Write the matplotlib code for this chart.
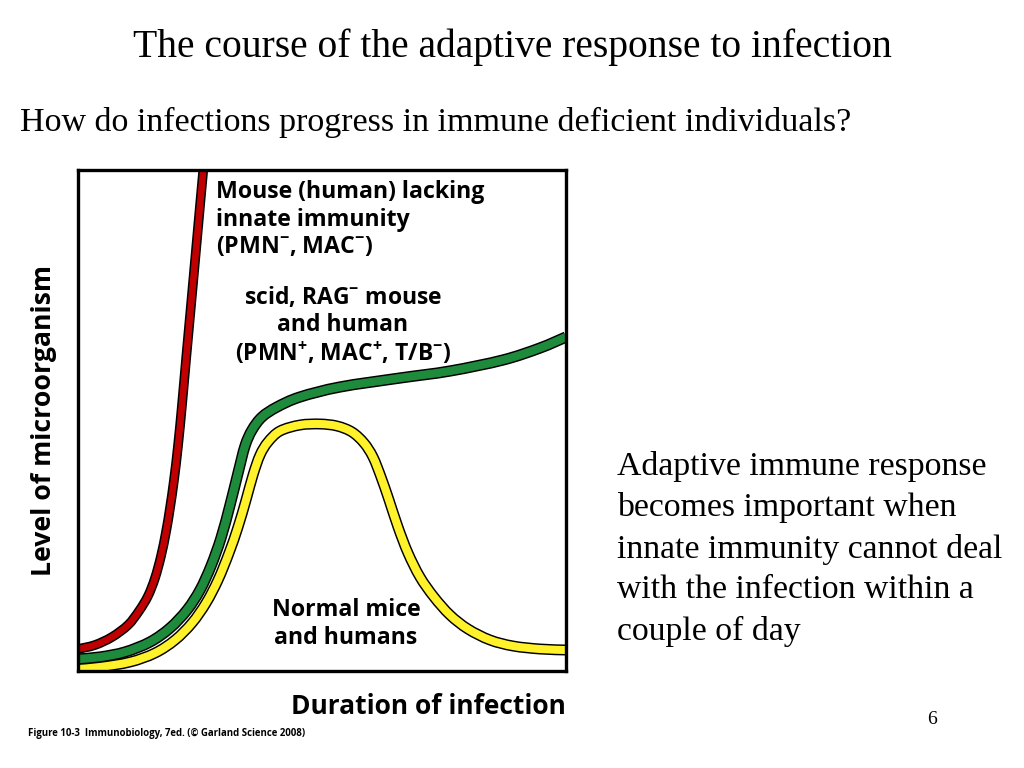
import numpy as np
import matplotlib
matplotlib.use("Agg")
import matplotlib.pyplot as plt
from matplotlib.path import Path
from matplotlib.patches import PathPatch

plt.rcParams["mathtext.fontset"] = "custom"
plt.rcParams["mathtext.rm"] = "Open Sans:bold"
plt.rcParams["mathtext.it"] = "Open Sans:bold"
plt.rcParams["mathtext.bf"] = "Open Sans:bold"

# ---- data (arbitrary units: duration 0-100, level 0-100) ----
red_x = [0, 3.48, 6.97, 10.25, 12.50, 14.34, 15.78, 17.01, 18.03, 18.85, 19.67,
         20.49, 21.31, 22.13, 23.16, 24.18, 25.20, 26.23]
red_y = [4.39, 5.19, 6.79, 9.18, 11.98, 14.97, 18.56, 22.95, 27.74, 32.53, 38.12,
         44.91, 53.09, 62.08, 73.05, 84.03, 95.01, 105.99]

green_x = [0, 4.51, 9.63, 14.75, 18.85, 22.34, 25.00, 27.25, 29.30, 31.15, 32.79,
           34.22, 35.66, 37.70, 40.78, 45.49, 53.69, 65.98, 76.23, 87.09, 94.67, 100]
green_y = [2.40, 2.79, 3.79, 5.79, 8.58, 12.18, 16.17, 20.96, 26.55, 33.13, 39.52,
           44.91, 48.10, 50.70, 52.69, 54.69, 56.69, 58.48, 59.88, 62.08, 64.47, 66.67]

yellow_x = [0, 4.51, 10.66, 15.78, 19.88, 23.36, 26.23, 28.69, 30.94, 32.79, 34.43,
            35.86, 37.30, 38.93, 41.39, 45.49, 49.59, 53.07, 56.15, 58.61, 60.45,
            62.09, 63.73, 65.57, 67.62, 70.08, 72.95, 76.23, 79.92, 84.43, 89.14,
            94.67, 100]
yellow_y = [0.40, 0.80, 1.80, 3.59, 6.19, 9.58, 13.57, 18.16, 23.55, 28.74, 34.13,
            39.12, 43.11, 45.71, 47.90, 49.10, 49.30, 48.90, 47.70, 45.51, 42.71,
            38.72, 34.13, 28.74, 23.55, 18.76, 14.77, 11.18, 8.38, 6.19, 4.99,
            4.39, 4.19]

series = [
    ("red", red_x, red_y, "#C00000", 7.0, 4.8),
    ("green", green_x, green_y, "#1E8B3C", 8.1, 6.0),
    ("yellow", yellow_x, yellow_y, "#FFF12A", 7.9, 5.8),
]


def smooth_path(xs, ys):
    """Catmull-Rom curve through the points, as cubic Bezier segments."""
    p = np.column_stack([xs, ys]).astype(float)
    verts = [p[0]]
    codes = [Path.MOVETO]
    n = len(p)
    for i in range(n - 1):
        p0 = p[i - 1] if i > 0 else p[i]
        p1 = p[i]
        p2 = p[i + 1]
        p3 = p[i + 2] if i + 2 < n else p[i + 1]
        c1 = p1 + (p2 - p0) / 6.0
        c2 = p2 - (p3 - p1) / 6.0
        verts += [c1, c2, p2]
        codes += [Path.CURVE4] * 3
    return Path(verts, codes)


fig = plt.figure(figsize=(10.24, 7.68), dpi=100)
fig.patch.set_facecolor("white")

ax = fig.add_axes([78 / 1024, 1 - 671 / 768, (566 - 78) / 1024, (671 - 170) / 768])
ax.set_xlim(0, 100)
ax.set_ylim(0, 100)
ax.set_xticks([])
ax.set_yticks([])
for s in ax.spines.values():
    s.set_linewidth(2.4)
    s.set_color("black")
    s.set_zorder(10)

for name, xs, ys, col, w_out, w_in in series:
    path = smooth_path(xs, ys)
    ax.add_patch(PathPatch(path, fill=False, edgecolor="black", lw=w_out,
                           capstyle="butt", joinstyle="round", zorder=3))
    ax.add_patch(PathPatch(path, fill=False, edgecolor=col, lw=w_in,
                           capstyle="butt", joinstyle="round", zorder=4))

lab_font = ["Open Sans", "DejaVu Sans"]


def fx(px):
    return px / 1024


def fy(py):
    return 1 - py / 768


fig.text(fx(216), fy(180), "Mouse (human) lacking\ninnate immunity\n(PMN$^{-}$, MAC$^{-}$)",
         family=lab_font, weight="bold", fontsize=16.7, ha="left", va="top",
         linespacing=1.2)
fig.text(fx(343), fy(285), "scid, RAG$^{-}$ mouse\nand human\n(PMN$^{+}$, MAC$^{+}$, T/B$^{-}$)",
         family=lab_font, weight="bold", fontsize=16.5, ha="center", va="top",
         linespacing=1.17)
fig.text(fx(346), fy(598), "Normal mice\nand humans",
         family=lab_font, weight="bold", fontsize=16.7, ha="center", va="top",
         linespacing=1.2)

fig.text(fx(44), fy(420), "Level of microorganism", family=lab_font, weight="bold",
         fontsize=19.2, rotation=90, ha="center", va="center")
fig.text(fx(566), fy(707), "Duration of infection", family=lab_font, weight="bold",
         fontsize=19, ha="right", va="center")
fig.text(fx(28), fy(733), "Figure 10-3  Immunobiology, 7ed. (\u00a9 Garland Science 2008)",
         family=lab_font, weight="bold", fontsize=6.9, ha="left", va="center")

serif = ["Liberation Serif", "DejaVu Serif"]
fig.text(0.5, fy(47), "The course of the adaptive response to infection",
         family=serif, fontsize=28.5, ha="center", va="center")
fig.text(fx(20), fy(122), "How do infections progress in immune deficient individuals?",
         family=serif, fontsize=24.5, ha="left", va="center")
fig.text(fx(617), fy(451),
         "Adaptive immune response\nbecomes important when\ninnate immunity cannot deal\n"
         "with the infection within a\ncouple of day",
         family=serif, fontsize=24.3, ha="left", va="top", linespacing=1.43)
fig.text(fx(932), fy(720), "6", family=serif, fontsize=14, ha="center", va="center")

fig.savefig("out.png", dpi=100, facecolor="white")
